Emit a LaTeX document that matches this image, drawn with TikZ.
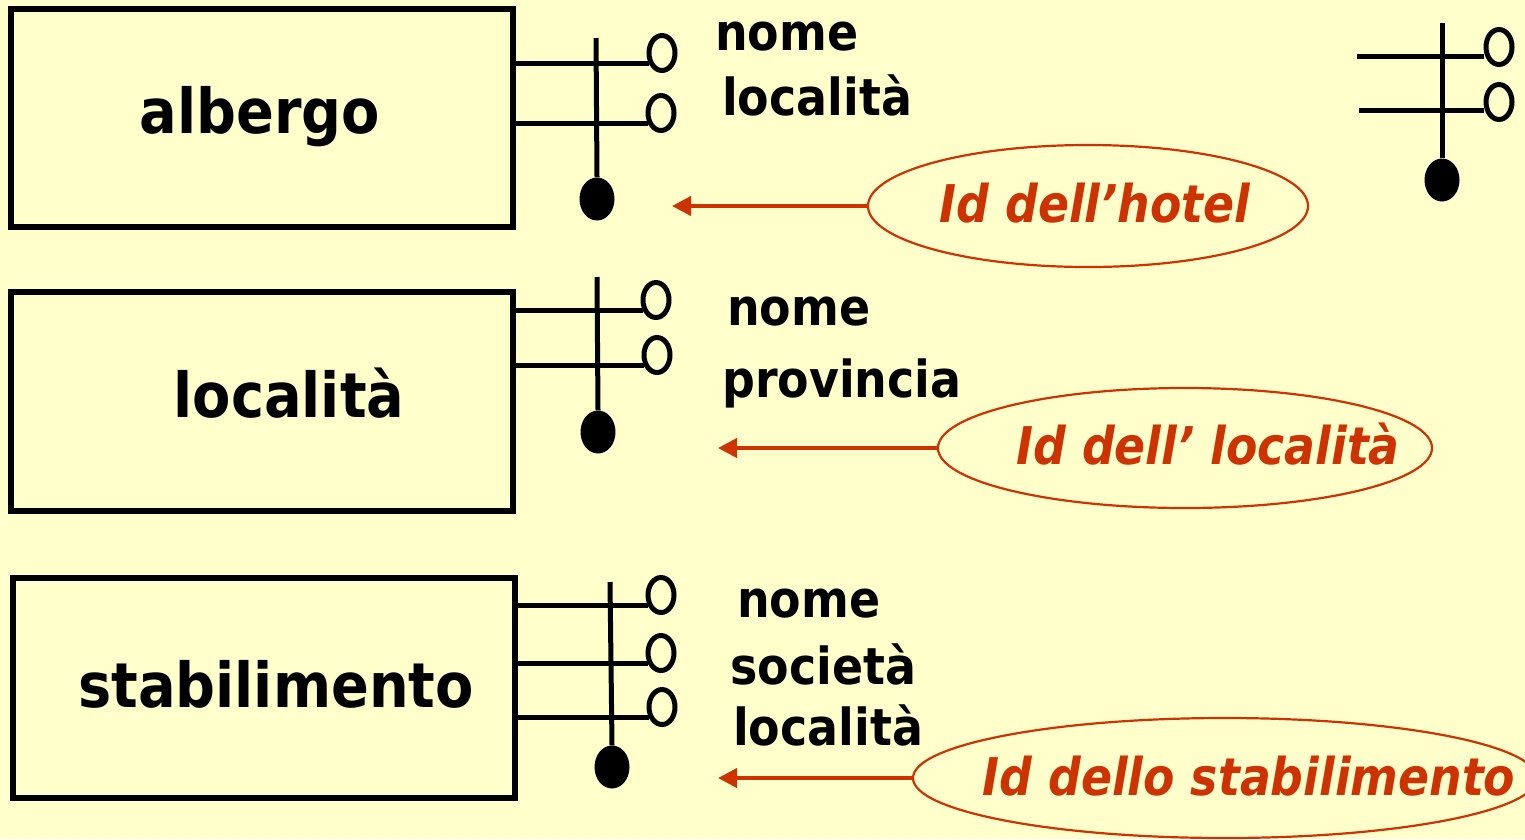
\documentclass[tikz,border=0pt]{standalone}
\usepackage{fontspec}
\setmainfont{DejaVu Sans}[FakeStretch=0.9]
\newfontfamily\idfont{DejaVu Sans}[FakeStretch=0.88]
\usetikzlibrary{shapes.geometric,arrows.meta}
\definecolor{bg}{HTML}{FFFFCC}
\definecolor{idred}{HTML}{CC3300}
\begin{document}
\begin{tikzpicture}[x=1pt,y=-1pt,
  entity/.style={draw,line width=5.5pt,inner sep=0pt,minimum width=502pt},
  entname/.style={anchor=base,inner sep=0pt,font=\fontsize{62}{70}\selectfont\bfseries},
  attrname/.style={anchor=base west,inner sep=0pt,font=\fontsize{51}{60}\selectfont\bfseries},
  attr/.style={ellipse,draw,line width=5pt,fill=bg,inner sep=0pt,minimum width=26pt,minimum height=35pt},
  keydot/.style={ellipse,fill=black,inner sep=0pt,minimum width=35pt,minimum height=43pt},
  link/.style={line width=5pt},
  idell/.style={ellipse,draw=idred,line width=2.2pt,inner sep=0pt},
  idtext/.style={inner sep=0pt,text=idred,font=\idfont\fontsize{52}{60}\selectfont\bfseries\itshape},
  idarrow/.style={draw=idred,line width=4pt,-{Triangle[length=19pt,width=19pt]}}
]
\useasboundingbox (0,0) rectangle (1525,839);
\fill[bg] (0,0) rectangle (1525,839);
\clip (0,0) rectangle (1525,839);

% ---------- albergo ----------
\node[entity,minimum height=218pt] (albergo) at (262,118) {};
\node[entname] (albergoT) at (260,133) {albergo};
\node[attr] (c11) at (662,53) {};
\node[attr] (c12) at (661,113) {};
\node[keydot] (k1) at (597,199) {};
\coordinate (v1) at (596,38);
\draw[link] (albergo.east |- c11.220) -- (c11.220);
\draw[link] (albergo.east |- c12.220) -- (c12.220);
\draw[link] (v1) -- (k1.north);
\node[attrname] (a11) at (715,50) {nome};
\node[attrname] (a12) at (722,115) {località};
\node[idell,minimum width=440pt,minimum height=122pt] (e1) at (1088,206) {};
\node[idtext] (t1) at (1095,203) {Id dell’hotel};
\coordinate (p1) at (672,206);
\draw[idarrow] (e1.west) -- (p1);

% ---------- stand-alone identifier symbol ----------
\node[attr] (c41) at (1499,47) {};
\node[attr] (c42) at (1499,102) {};
\node[keydot] (k4) at (1442,180) {};
\coordinate (v4) at (1442,23);
\coordinate (h41) at (1357,56);
\coordinate (h42) at (1359,110);
\draw[link] (h41) -- (h41 -| c41.west);
\draw[link] (h42) -- (h42 -| c42.west);
\draw[link] (v4) -- (k4.north);

% ---------- località ----------
\node[entity,minimum height=219pt] (localita) at (262,401.5) {};
\node[entname] (localitaT) at (289,417) {località};
\node[attr] (c21) at (656,300) {};
\node[attr] (c22) at (657,355) {};
\node[keydot] (k2) at (598,432) {};
\coordinate (v2) at (597,277);
\draw[link] (localita.east |- c21.220) -- (c21.220);
\draw[link] (localita.east |- c22.220) -- (c22.220);
\draw[link] (v2) -- (k2.north);
\node[attrname] (a21) at (727,325) {nome};
\node[attrname] (a22) at (722,397) {provincia};
\node[idell,minimum width=494pt,minimum height=120pt] (e2) at (1185,448) {};
\node[idtext] (t2) at (1208,444) {Id dell’ località};
\coordinate (p2) at (718,448);
\draw[idarrow] (e2.west) -- (p2);

% ---------- stabilimento ----------
\node[entity,minimum height=220pt] (stab) at (264,688) {};
\node[entname] (stabT) at (276,707) {stabilimento};
\node[attr] (c31) at (661,595) {};
\node[attr] (c32) at (661,653) {};
\node[attr] (c33) at (662,707) {};
\node[keydot] (k3) at (612,767) {};
\coordinate (v3) at (610,582);
\draw[link] (stab.east |- c31.220) -- (c31.220);
\draw[link] (stab.east |- c32.220) -- (c32.220);
\draw[link] (stab.east |- c33.220) -- (c33.220);
\draw[link] (v3) -- (k3.north);
\node[attrname] (a31) at (737,617) {nome};
\node[attrname] (a32) at (730,684) {società};
\node[attrname] (a33) at (733,745) {località};
\node[idell,minimum width=624pt,minimum height=120pt] (e3) at (1225,778) {};
\node[idtext] (t3) at (1249,776) {Id dello stabilimento};
\coordinate (p3) at (718,778);
\draw[idarrow] (e3.west) -- (p3);
\end{tikzpicture}
\end{document}
